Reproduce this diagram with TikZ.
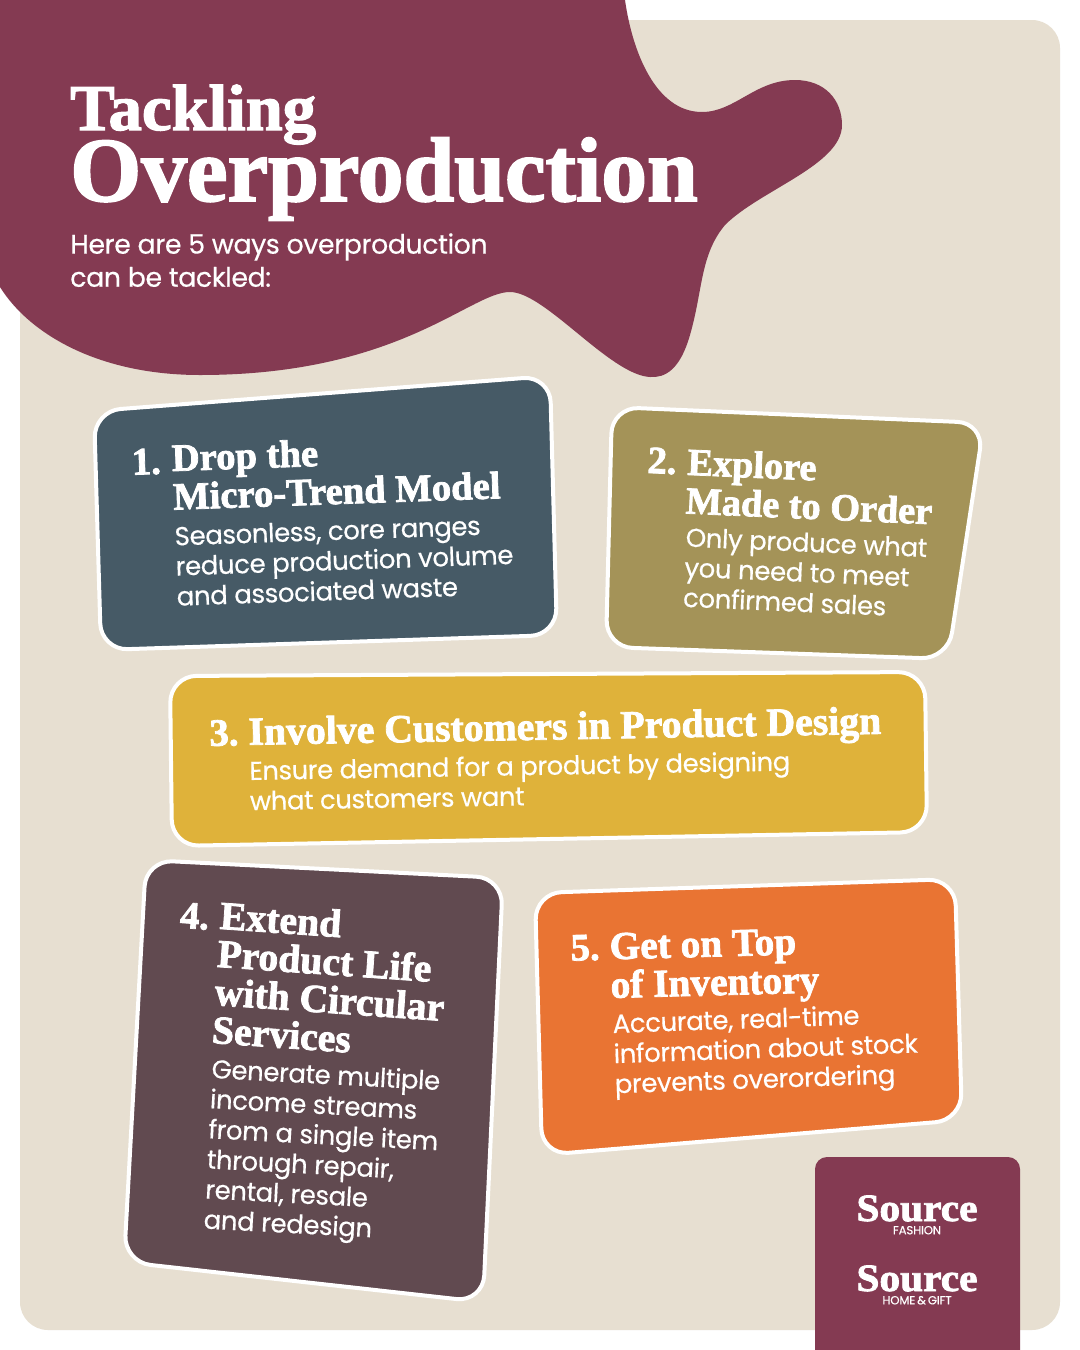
\documentclass[tikz,border=0pt]{standalone}
\usepackage{fontspec}
\usetikzlibrary{positioning}
\setmainfont{Poppins}[FakeBold=0.4,LetterSpace=-1.5]
\newfontfamily\headfont[FakeBold=2]{Liberation Serif Bold}
\definecolor{maroon}{HTML}{843A52}
\definecolor{beige}{HTML}{E7DFD1}
\definecolor{slate}{HTML}{465A66}
\definecolor{olive}{HTML}{A49358}
\definecolor{mustard}{HTML}{DFB23A}
\definecolor{plum}{HTML}{614A50}
\definecolor{tangerine}{HTML}{E97433}

\begin{document}
\begin{tikzpicture}[x=0.75pt,y=-0.75pt,
        card/.style={draw=white,line width=3pt,rounded corners=20pt,line join=round},
        head text/.style={anchor=north west,inner sep=0pt,align=left,text=white,font=\headfont\fontsize{29}{29}\selectfont},
        body text/.style={anchor=north west,inner sep=0pt,align=left,text=white,font=\fontsize{19.5}{22.6}\selectfont},
        logo text/.style={inner sep=0pt,anchor=base,text=white,xscale=1.07,font=\headfont\fontsize{29}{29}\selectfont},
        logo small/.style={inner sep=0pt,text=white,font=\fontsize{8.8}{10}\selectfont}]
    \useasboundingbox (0,0) rectangle (1080,1350);
    \fill[white] (0,0) rectangle (1080,1350);
    \fill[beige,rounded corners=21pt] (20,20) rectangle (1060,1330);
    % blob
    \fill[maroon] (0,0) -- (625,0) .. controls (632,50) and (655,112) .. (702,112)
        .. controls (735,112) and (755,80) .. (795,80)
        .. controls (825,80) and (842,100) .. (842,125)
        .. controls (842,165) and (760,190) .. (725,225)
        .. controls (700,255) and (703,290) .. (690,335)
        .. controls (680,370) and (665,378) .. (650,377)
        .. controls (610,375) and (545,292) .. (510,292)
        .. controls (470,292) and (400,375) .. (200,375)
        .. controls (100,375) and (30,335) .. (0,287) -- cycle;

    \node[inner sep=0pt,anchor=base west,text=white,xscale=1.02,font=\headfont\fontsize{49}{49}\selectfont] (tackling) at (70,130) {Tackling};
    \node[inner sep=0pt,anchor=base west,text=white,font=\headfont\fontsize{68.5}{68.5}\selectfont] (over) at (70,201) {Overproduction};
    \node[body text,font=\fontsize{20.1}{24.8}\selectfont] (intro) at (70,233) {Here are 5 ways overproduction\\can be tackled:};

    % cards
    \draw[card,fill=slate] (94,411) -- (550,376) -- (557,635) -- (101,650) -- cycle;
    \draw[card,fill=olive] (612,407) -- (984,423) -- (948,659) -- (606,647) -- cycle;
    \draw[card,fill=mustard] (170,676) -- (925,672) -- (927,832) -- (172,846) -- cycle;
    \draw[card,fill=plum] (146,860) -- (503,878) -- (483,1302) -- (124,1262) -- cycle;
    \draw[card,fill=tangerine] (535,893) -- (955,879) -- (962,1120) -- (542,1155) -- cycle;

    % card 1
    \node[head text,rotate=2] (n1) at (131,449) {1.};
    \node[head text,rotate=2] (h1) at (171,444) {Drop the\\Micro-Trend Model};
    \node[body text,rotate=2] (b1) at (174,526) {Seasonless, core ranges\\reduce production volume\\and associated waste};
    % card 2
    \node[head text,rotate=-2.5] (n2) at (648,447) {2.};
    \node[head text,font=\headfont\fontsize{28.7}{29}\selectfont,rotate=-2.5] (h2) at (688,448) {Explore\\Made to Order};
    \node[body text,rotate=-2.5] (b2) at (686,527) {Only produce what\\you need to meet\\confirmed sales};
    % card 3
    \node[head text,rotate=1] (n3) at (209,720) {3.};
    \node[head text,font=\headfont\fontsize{29.8}{29}\selectfont,rotate=1] (h3) at (248,717) {Involve Customers in Product Design};
    \node[body text,font=\fontsize{19.4}{22.6}\selectfont,rotate=1] (b3) at (249,760) {Ensure demand for a product by designing\\what customers want};
    % card 4
    \node[head text,rotate=-4] (n4) at (181,902) {4.};
    \node[head text,font=\headfont\fontsize{29.8}{28.6}\selectfont,rotate=-4] (h4) at (221,901) {Extend\\Product Life\\with Circular\\Services};
    \node[body text,rotate=-3] (b4) at (212,1058) {Generate multiple\\income streams\\from a single item\\through repair,\\rental, resale\\and redesign};
    % card 5
    \node[head text,rotate=1.5] (n5) at (570,935) {5.};
    \node[head text,font=\headfont\fontsize{29.5}{29}\selectfont,rotate=1.5] (h5) at (609,933) {Get on Top\\of Inventory};
    \node[body text,rotate=2] (b5) at (612,1013) {Accurate, real-time\\information about stock\\prevents overordering};

    % logo
    \fill[maroon,rounded corners=9pt] (815,1157) rectangle (1020,1380);
    \node[logo text] (src1) at (917,1221) {Source};
    \node[logo small] (fashion) [below=3pt of src1] {FASHION};
    \node[logo text] (src2) at (917,1291) {Source};
    \node[logo small] (homegift) [below=3pt of src2] {HOME\,\&\,GIFT};
\end{tikzpicture}
\end{document}
